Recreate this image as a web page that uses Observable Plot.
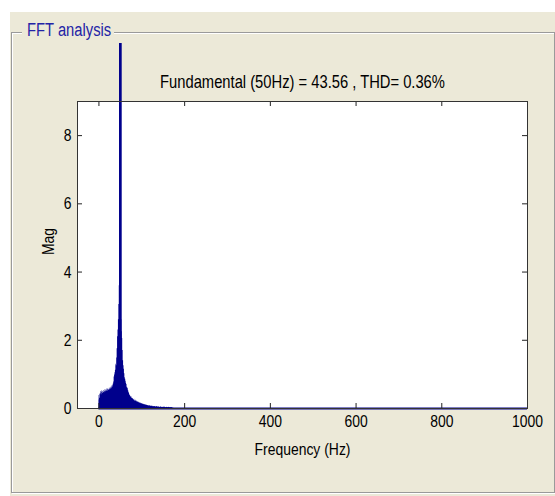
<!DOCTYPE html>
<html><head><meta charset="utf-8">
<script src="https://cdn.jsdelivr.net/npm/d3@7"></script>
<script src="https://cdn.jsdelivr.net/npm/@observablehq/plot@0.6"></script>
<style>
body{margin:0;background:#fff;width:555px;height:496px;position:relative;overflow:hidden;font-family:"Liberation Sans",Arial,sans-serif;}
#panel{position:absolute;left:10px;top:12px;width:545px;height:484px;background:#ECE9D8;}
#box{position:absolute;box-sizing:border-box;left:11px;top:32px;width:544px;height:461px;border:1px solid #9a9a9a;box-shadow:inset 1px 1px 0 #fff,1px 1px 0 #fff;}
#legend{position:absolute;left:22px;top:19px;width:92px;height:22px;background:#ECE9D8;}
#legend span{position:absolute;left:5px;top:0;white-space:nowrap;color:#2323a6;font-size:18px;line-height:22px;transform:scaleX(0.82);transform-origin:0 50%;}
#chart{position:absolute;left:0;top:43px;}
</style></head><body>
<div id="panel"></div>
<div id="box"></div>
<div id="legend"><span>FFT analysis</span></div>
<div id="chart"></div>
<script>
const titleText = "Fundamental (50Hz) = 43.56 , THD= 0.36%";
const xLabel = "Frequency (Hz)";
const yLabel = "Mag";
const xTicks = [0, 200, 400, 600, 800, 1000];
const yTicks = [0, 2, 4, 6, 8];
const xDomain = [-50, 1000];
const yDomain = [0, 9];
const fundamentalHz = 50;
const fundamentalMag = 43.56;
// spectrum magnitude, 1 Hz bins starting at 0 Hz
const freqStart = 0;
const mags = [
0.25,0.38,0.42,0.30,0.45,0.50,0.40,0.48,0.52,0.44,
0.50,0.47,0.53,0.46,0.50,0.55,0.49,0.54,0.52,0.57,
0.50,0.55,0.58,0.53,0.56,0.60,0.55,0.58,0.62,0.57,
0.60,0.66,0.63,0.68,0.72,0.78,0.92,1.05,0.98,1.12,
1.30,1.25,1.48,1.75,2.10,2.30,2.60,3.05,3.60,3.70,
3.70,3.55,3.20,2.60,2.25,2.05,1.70,1.40,1.25,1.15,
1.02,0.90,0.86,0.80,0.74,0.70,0.62,0.58,0.60,0.52,
0.48,0.45,0.40,0.38,0.36,0.33,0.35,0.30,0.31,0.28,
0.29,0.26,0.25,0.27,0.23,0.22,0.24,0.21,0.20,0.22,
0.19,0.18,0.20,0.17,0.18,0.16,0.17,0.15,0.16,0.14,
0.15,0.13,0.14,0.12,0.13,0.12,0.11,0.12,0.10,0.11,
0.10,0.09,0.10,0.09,0.08,0.09,0.08,0.07,0.08,0.07,
0.08,0.07,0.06,0.07,0.06,0.07,0.06,0.05,0.06,0.05,
0.06,0.05,0.06,0.05,0.04,0.05,0.06,0.05,0.04,0.05,
0.04,0.05,0.04,0.03,0.04,0.05,0.04,0.03,0.04,0.03,
0.04,0.03,0.04,0.05,0.03,0.04,0.03,0.02,0.03,0.04,
0.03,0.03,0.02,0.03,0.04,0.03,0.02,0.03,0.02,0.03,
0.02,0.03,0.02,0.01,0.01,0.01
];
const freqEnd = 1000;

const spectrum = mags.map((m, i) => ({f: freqStart + i, mag: m}));
const navy = "#00008c";

const W = 555, H = 440, mT = 58, mL = 77, mR = 28, mB = 75;
const pw = W - mL - mR, ph = H - mT - mB;
const tick = 5;

const chart = Plot.plot({
  width: W, height: H,
  marginTop: mT, marginLeft: mL, marginRight: mR, marginBottom: mB,
  style: {background: "transparent", overflow: "hidden", fontFamily: '"Liberation Sans",Arial,sans-serif', fontSize: "17px", color: "#000"},
  x: {domain: xDomain},
  y: {domain: yDomain},
  marks: [
    Plot.frame({fill: "white", stroke: null}),
    Plot.areaY(spectrum, {x: "f", y: "mag", curve: "step", fill: navy}),
    Plot.ruleY([0], {x1: freqStart, x2: freqEnd, stroke: navy, strokeWidth: 2}),
    Plot.ruleX([fundamentalHz], {y1: 0, y2: fundamentalMag, stroke: navy, strokeWidth: 2.7}),
    // inward ticks
    Plot.ruleX(xTicks, {insetTop: ph - tick, stroke: "#222"}),
    Plot.ruleX(xTicks, {insetBottom: ph - tick, stroke: "#222"}),
    Plot.ruleY(yTicks, {insetRight: pw - tick, stroke: "#222"}),
    Plot.ruleY(yTicks, {insetLeft: pw - tick, stroke: "#222"}),
    Plot.frame({stroke: "#333", strokeWidth: 1}),
    Plot.axisX(xTicks, {tickSize: 0, tickPadding: 6, label: null, tickFormat: d => String(d)}),
    Plot.axisY(yTicks, {tickSize: 0, tickPadding: 6, label: null, tickFormat: d => String(d)}),
    Plot.text([xLabel], {frameAnchor: "bottom", dy: 41, lineAnchor: "middle", text: d => d, fontSize: 17}),
    Plot.text([yLabel], {frameAnchor: "left", dx: -29, rotate: -90, lineAnchor: "middle", text: d => d, fontSize: 17}),
    Plot.text([titleText], {frameAnchor: "top", dy: -19, lineAnchor: "middle", text: d => d, fontSize: 18})
  ]
});
// narrow (condensed) lettering like the original: squeeze each text about its own anchor point
d3.select(chart).selectAll("text").each(function() {
  const t = this.getAttribute("transform") || "";
  const x = parseFloat(this.getAttribute("x")) || 0, y = parseFloat(this.getAttribute("y")) || 0;
  this.setAttribute("transform", `${t} translate(${x},${y}) scale(0.82,1) translate(${-x},${-y})`.trim());
});
document.getElementById("chart").appendChild(chart);
</script>
</body></html>
